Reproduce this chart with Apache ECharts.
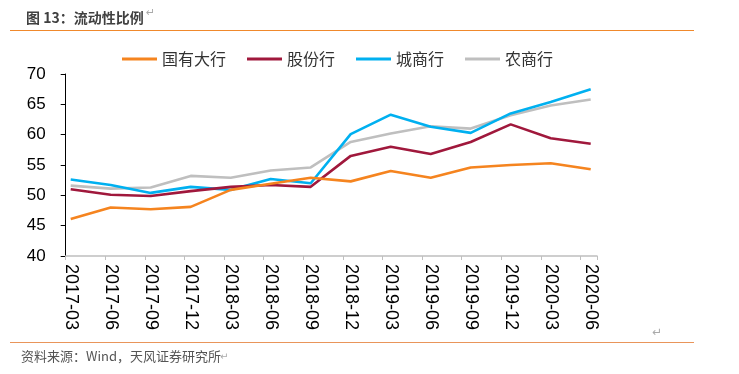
<!DOCTYPE html>
<html>
<head>
<meta charset="utf-8">
<script src="https://cdn.jsdelivr.net/npm/echarts@6/dist/echarts.min.js"></script>
<style>
html,body{margin:0;padding:0;background:#fff;}
#main{width:739px;height:374px;}
</style>
</head>
<body>
<div id="main"></div>
<script>
const categories = ['2017-03','2017-06','2017-09','2017-12','2018-03','2018-06','2018-09','2018-12','2019-03','2019-06','2019-09','2019-12','2020-03','2020-06'];
const seriesNames = ['国有大行','股份行','城商行','农商行'];
const bigBanks   = [46.1, 48.0, 47.7, 48.1, 50.9, 51.9, 52.9, 52.3, 54.0, 52.9, 54.6, 55.0, 55.3, 54.3];
const jointStock = [51.0, 50.1, 49.9, 50.7, 51.4, 51.7, 51.4, 56.5, 58.0, 56.8, 58.8, 61.7, 59.4, 58.5];
const cityBanks  = [52.6, 51.7, 50.4, 51.4, 50.9, 52.7, 52.0, 60.1, 63.3, 61.3, 60.3, 63.5, 65.4, 67.5];
const ruralBanks = [51.6, 51.1, 51.3, 53.2, 52.9, 54.1, 54.6, 58.8, 60.2, 61.4, 61.0, 63.2, 64.8, 65.8];
const yTicks = [40, 45, 50, 55, 60, 65, 70];
const colors = ['#F5841F', '#A0183C', '#00B0F0', '#BFBFBF'];

const chart = echarts.init(document.getElementById('main'), null, {renderer: 'canvas'});
const seriesData = [bigBanks, jointStock, cityBanks, ruralBanks];
const latin = 'Liberation Sans, Arial, sans-serif';
const cjk = '"Noto Sans CJK SC", sans-serif';

chart.setOption({
  animation: false,
  backgroundColor: '#ffffff',
  title: {
    text: '图 13：流动性比例',
    left: 21, top: 6,
    textStyle: {fontFamily: cjk, fontSize: 14, fontWeight: 'bold', color: '#404040'}
  },
  graphic: [
    {type: 'line', shape: {x1: 10, y1: 30.5, x2: 694, y2: 30.5}, style: {stroke: '#F0892C', lineWidth: 1.2}},
    {type: 'line', shape: {x1: 10, y1: 342.5, x2: 694, y2: 342.5}, style: {stroke: '#E9955A', lineWidth: 1.2}},
    {type: 'text', left: 146, top: 8, style: {text: '↵', font: '11px "DejaVu Sans", sans-serif', fill: '#aaaaaa'}},
    {type: 'text', left: 21, top: 350, style: {text: '资料来源：Wind，天风证券研究所', font: '13px "Noto Sans CJK SC", sans-serif', fill: '#555555'}},
    {type: 'text', left: 220, top: 352, style: {text: '↵', font: '10px "DejaVu Sans", sans-serif', fill: '#aaaaaa'}},
    {type: 'text', left: 652, top: 327, style: {text: '↵', font: '12px "DejaVu Sans", sans-serif', fill: '#aaaaaa'}}
  ],
  legend: {
    data: seriesNames,
    left: 122, top: 51,
    padding: 0,
    itemGap: 21,
    itemWidth: 35, itemHeight: 3,
    icon: 'rect',
    textStyle: {fontFamily: cjk, fontSize: 16, color: '#333333'}
  },
  grid: [
    {left: 70.7, right: 739 - 590.7, top: 74, bottom: 118, containLabel: false},
    {left: 65.7, right: 739 - 597, top: 74, bottom: 118, containLabel: false}
  ],
  xAxis: [
    {
      type: 'category', gridIndex: 0, data: categories, boundaryGap: false,
      axisLine: {show: false}, axisTick: {show: false},
      axisLabel: {rotate: -90, margin: 8, fontFamily: latin, fontSize: 18, color: '#000000', interval: 0},
      splitLine: {show: false}
    },
    {
      type: 'value', gridIndex: 1, min: 0, max: 13.42, interval: 1,
      axisLine: {show: true, lineStyle: {color: '#BFBFBF', width: 1.5}},
      axisTick: {show: true, length: 4, lineStyle: {color: '#BFBFBF'}},
      axisLabel: {show: false}, splitLine: {show: false}
    }
  ],
  yAxis: [
    {type: 'value', gridIndex: 0, min: 40, max: 70, interval: 5, show: false},
    {
      type: 'value', gridIndex: 1, min: yTicks[0], max: yTicks[yTicks.length - 1], interval: 5,
      axisLine: {show: true, lineStyle: {color: '#000000', width: 1}},
      axisTick: {show: true, length: 5, lineStyle: {color: '#000000'}},
      axisLabel: {margin: 20, fontFamily: latin, fontSize: 17, color: '#000000'},
      splitLine: {show: false}
    }
  ],
  series: seriesNames.map((name, i) => ({
    name: name,
    type: 'line',
    xAxisIndex: 0, yAxisIndex: 0,
    data: seriesData[i],
    symbol: 'none',
    smooth: false,
    z: 10 - i,
    lineStyle: {color: colors[i], width: 2.6},
    itemStyle: {color: colors[i]}
  }))
});
</script>
</body>
</html>
